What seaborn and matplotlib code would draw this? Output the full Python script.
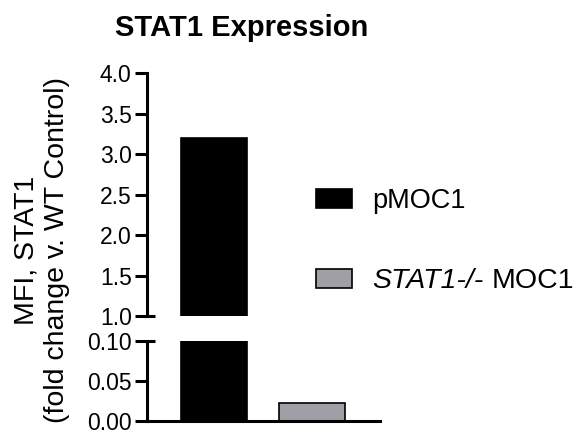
import matplotlib
matplotlib.use("Agg")
import matplotlib.pyplot as plt
import seaborn as sns

# values
groups = ["pMOC1", "STAT1-/- MOC1"]
fold_change = [3.2, 0.023]
bar_colors = ["#000000", "#a09fa5"]
upper_ticks = [1.0, 1.5, 2.0, 2.5, 3.0, 3.5, 4.0]
lower_ticks = [0.00, 0.05, 0.10]

sns.set_theme(style="ticks")
plt.rcParams["font.family"] = ["Liberation Sans", "DejaVu Sans"]
plt.rcParams["text.color"] = "black"
plt.rcParams["ytick.color"] = "black"

fig = plt.figure(figsize=(5.8, 4.33), dpi=100)
ax_top = fig.add_axes([0.2534, 0.2702, 0.4017, 0.5612])
ax_bot = fig.add_axes([0.2534, 0.0277, 0.4017, 0.1848])

# same bars on both panels, each panel shows a different y window (broken axis)
for ax, show_legend in ((ax_top, True), (ax_bot, False)):
    sns.barplot(x=groups, y=fold_change, hue=groups, palette=bar_colors,
                width=0.67, saturation=1, edgecolor="black", linewidth=1.2,
                legend=show_legend, ax=ax)
    ax.set_xlim(-0.68, 1.685)
    ax.set_xlabel("")
    ax.set_ylabel("")
    ax.tick_params(axis="x", bottom=False, labelbottom=False)
    ax.tick_params(axis="y", length=9, width=2.2, labelsize=16.5, pad=2,
                   color="black", labelcolor="black")
    for side in ("left", "bottom"):
        ax.spines[side].set_linewidth(2.2)
        ax.spines[side].set_color("black")

ax_top.set_ylim(upper_ticks[0], upper_ticks[-1])
ax_top.set_yticks(upper_ticks)
ax_top.set_yticklabels([f"{t:.1f}" for t in upper_ticks])
sns.despine(ax=ax_top, bottom=True)

ax_bot.set_ylim(lower_ticks[0], lower_ticks[-1])
ax_bot.set_yticks(lower_ticks)
ax_bot.set_yticklabels([f"{t:.2f}" for t in lower_ticks])
sns.despine(ax=ax_bot)

# small inward caps where the axis is broken
ax_top.plot([0, 0.034], [upper_ticks[0]] * 2, color="black", lw=2.2,
            transform=ax_top.get_yaxis_transform(), clip_on=False, solid_capstyle="butt")
ax_bot.plot([0, 0.034], [lower_ticks[-1]] * 2, color="black", lw=2.2,
            transform=ax_bot.get_yaxis_transform(), clip_on=False, solid_capstyle="butt")

sns.move_legend(ax_top, "upper left", bbox_to_anchor=(0.545, 0.5655),
                bbox_transform=fig.transFigure, frameon=False, title=None,
                fontsize=19.5, handlelength=1.33, handleheight=0.7,
                handletextpad=0.74, labelspacing=2.0, borderpad=0, borderaxespad=0)
leg = ax_top.get_legend()
for h in leg.legend_handles:
    h.set_edgecolor("black")
    h.set_linewidth(1.2)
label2 = leg.get_texts()[1]
label2.set_text("STAT1-/-")
label2.set_fontstyle("italic")
label2.set_fontsize(20.5)

fig.text(242 / 580, 1 - 28 / 433, "STAT1 Expression", ha="center", va="center",
         fontsize=21, fontweight="bold")
fig.text(0.072, 0.4226, "MFI, STAT1\n(fold change v. WT Control)", rotation=90,
         ha="center", va="center", multialignment="center", fontsize=20.5)

# the non-italic part of the second legend label goes right after the italic part
fig.canvas.draw()
bb = label2.get_window_extent().transformed(fig.transFigure.inverted())
fig.text(bb.x1 + 8 / 580, bb.y0, "MOC1", ha="left", va="bottom", fontsize=20.5)

fig.savefig("out.png", dpi=100)
